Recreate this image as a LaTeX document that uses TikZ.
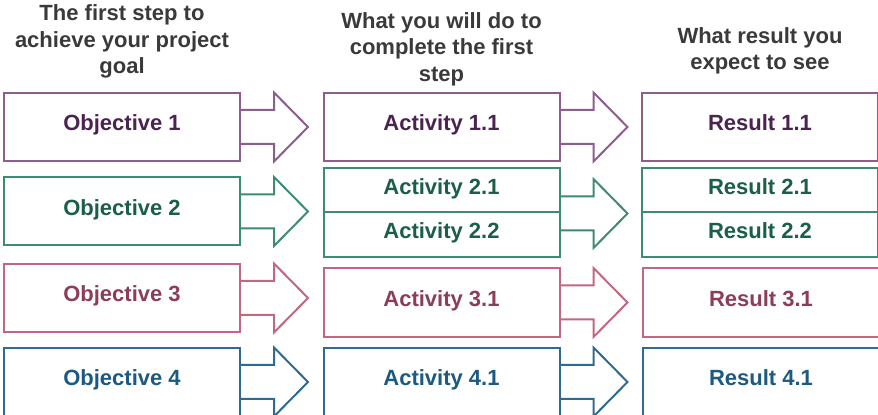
\documentclass[tikz,border=0pt]{standalone}
\usepackage{fontspec}
\setmainfont{Liberation Sans}
\usepackage{xcolor}
\usepackage{tikz}
\usetikzlibrary{positioning}

\definecolor{lineA}{HTML}{8B5E8E}
\definecolor{textA}{HTML}{4B2350}
\definecolor{lineB}{HTML}{3D8B71}
\definecolor{textB}{HTML}{1B5E4A}
\definecolor{lineC}{HTML}{C2677F}
\definecolor{textC}{HTML}{8B3D5A}
\definecolor{lineD}{HTML}{2F6B8F}
\definecolor{textD}{HTML}{1B5A82}
\definecolor{hdrgray}{HTML}{3A3A3A}

% block arrow leaving the east side of a node
\newcommand{\blockarrow}[2]{%
  \draw[#2,line width=1pt,line join=miter] (#1) ++(0,-17) -- ++(33,0) -- ++(0,-17.5)
    -- ++(34,34.5) -- ++(-34,34.5) -- ++(0,-17.5) -- ++(-33,0);}

\tikzset{
  box/.style={draw,line width=1pt,fill=white,inner sep=0pt,
    minimum width=118pt,minimum height=34pt,
    text height=8pt,text depth=4pt,
    font=\bfseries\fontsize{11}{13}\selectfont},
  half/.style={box,minimum height=22.25pt},
  hdr/.style={align=center,text=hdrgray,
    font=\bfseries\fontsize{11}{13.3}\selectfont},
  rowA/.style={draw=lineA,text=textA},
  rowB/.style={draw=lineB,text=textB},
  rowC/.style={draw=lineC,text=textC},
  rowD/.style={draw=lineD,text=textD},
}

\begin{document}
\begin{tikzpicture}[x=0.5pt,y=-0.5pt]
\clip (0,0) rectangle (878,415);

\node[hdr] (h1) at (122,41.5) {The first step to\\achieve your project\\goal};
\node[hdr] (h2) at (441.5,49) {What you will do to\\complete the first\\step};
\node[hdr] (h3) at (760,51) {What result you\\expect to see};

% row 1
\node[box,rowA] (o1) at (122,127) {Objective 1};
\node[box,rowA] (a11) at (441.5,127) {Activity 1.1};
\node[box,rowA] (r11) at (760,127) {Result 1.1};
\blockarrow{o1.east}{lineA}
\blockarrow{a11.east}{lineA}

% row 2
\node[box,rowB] (o2) at (122,211.5) {Objective 2};
\node[half,rowB] (a21) at (441.5,190.25) {Activity 2.1};
\node[half,rowB] (a22) at (441.5,234.75) {Activity 2.2};
\node[half,rowB] (r21) at (760,190.25) {Result 2.1};
\node[half,rowB] (r22) at (760,234.75) {Result 2.2};
\blockarrow{o2.east}{lineB}
\blockarrow{a21.south east}{lineB}

% row 3
\node[box,rowC] (o3) at (122,298) {Objective 3};
\node[box,rowC,minimum height=34.5pt] (a31) at (441.5,302.5) {Activity 3.1};
\node[box,rowC,minimum height=34.5pt] (r31) at (761,302.5) {Result 3.1};
\blockarrow{o3.east}{lineC}
\blockarrow{a31.east}{lineC}

% row 4
\node[box,rowD] (o4) at (122,382) {Objective 4};
\node[box,rowD] (a41) at (441.5,382) {Activity 4.1};
\node[box,rowD] (r41) at (761,382) {Result 4.1};
\blockarrow{o4.east}{lineD}
\blockarrow{a41.east}{lineD}
\end{tikzpicture}
\end{document}
